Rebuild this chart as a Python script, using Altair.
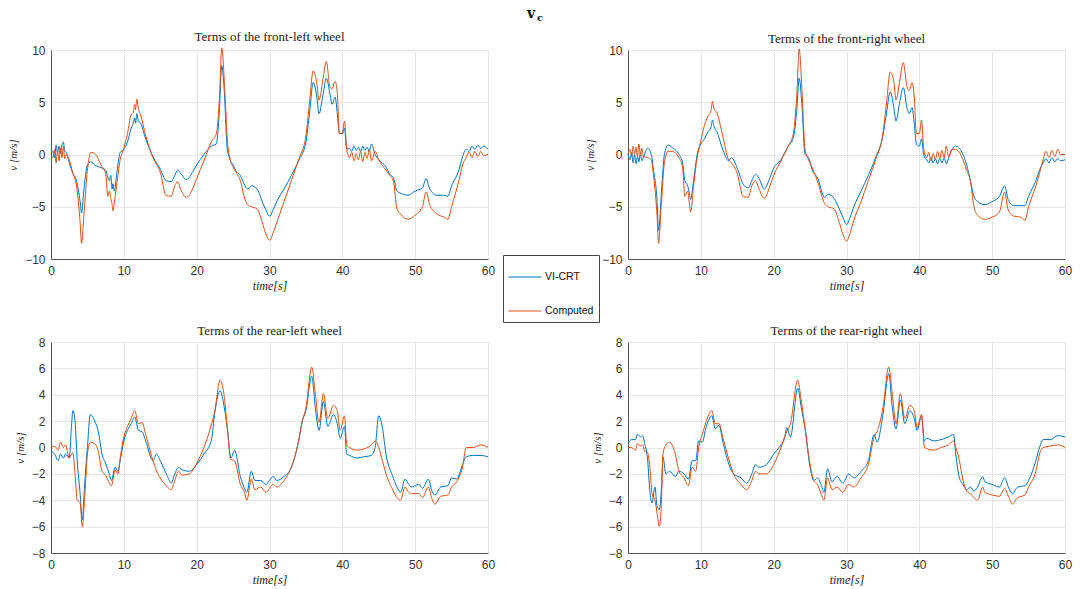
import altair as alt
import pandas as pd

SERIES = ["VI-CRT", "Computed"]
COLORS = ["#0072BD", "#D95319"]
TIME_TICKS = [0, 10, 20, 30, 40, 50, 60]
FRONT_TICKS = [-10, -5, 0, 5, 10]
REAR_TICKS = [-8, -6, -4, -2, 0, 2, 4, 6, 8]
TITLES = ["Terms of the front-left wheel", "Terms of the front-right wheel",
          "Terms of the rear-left wheel", "Terms of the rear-right wheel"]

# (time, VI-CRT, Computed)
FRONT_LEFT = [
    (0, 0, 0), (0.3, 0.3, -0.3), (0.5, -0.3, 0.5), (0.7, 0.9, -0.8), (0.9, 0.2, 0.4),
    (1.1, 0.8, -0.6), (1.3, 0.1, 0.6), (1.5, 0.9, -0.3), (1.7, 1.2, 0.8), (1.9, 0.3, -0.4),
    (2.1, 0.2, 0), (2.5, -0.8, -0.5), (3.0, -1.8, -1.8), (3.5, -2.5, -3.0), (4.0, -4.5, -6.5),
    (4.2, -5.6, -8.5), (4.5, -3.5, -6.0), (5.0, -1.0, -1.5), (5.5, -0.7, 0.2), (6.0, -1.0, 0.1),
    (7.0, -1.3, -1.2), (7.5, -1.5, -1.8), (7.8, -2.2, -4.0), (8.0, -2.5, -3.5), (8.2, -2.0, -4.2),
    (8.4, -3.3, -4.8), (8.5, -2.8, -5.4), (8.7, -3.5, -4.6), (9.0, -2.0, -3.0), (9.5, 0.2, -0.5),
    (10.0, 0.5, 0.6), (10.5, 1.2, 2.0), (11.0, 2.5, 3.8), (11.3, 3.0, 4.0), (11.5, 3.5, 4.8),
    (11.6, 3.0, 4.3), (11.8, 3.9, 5.3), (12.0, 3.2, 4.4), (12.3, 3.0, 3.8), (13.0, 1.5, 1.8),
    (14.0, -0.2, -0.3), (15.0, -1.4, -1.7), (15.8, -2.5, -3.9), (16.5, -2.6, -4.0), (17.0, -2.0, -3.0),
    (17.4, -1.5, -2.6), (17.8, -1.8, -3.3), (18.6, -2.4, -4.1), (19.5, -1.6, -3.2), (20.0, -1.0, -2.3),
    (21.0, 0.0, -0.6), (22.0, 0.8, 1.2), (22.7, 1.0, 2.0), (23.1, 4.0, 5.0), (23.45, 8.5, 10.2),
    (23.8, 6.0, 7.0), (24.2, 0.5, 1.5), (24.6, -0.5, -0.5), (25.0, -1.0, -1.2), (25.5, -1.7, -1.8),
    (26.0, -2.0, -2.5), (26.5, -2.8, -4.0), (27.0, -3.3, -4.8), (27.5, -3.0, -5.0), (28.3, -3.3, -5.2),
    (29.0, -4.5, -6.5), (29.5, -5.3, -7.6), (30.0, -5.9, -8.2), (30.5, -5.3, -7.5), (31.0, -4.5, -6.5),
    (32.0, -3.3, -4.5), (33.0, -2.0, -2.5), (34.0, -0.6, -0.5), (35.0, 1.2, 1.8), (35.5, 4.0, 5.0),
    (36.0, 6.9, 8.0), (36.5, 5.5, 6.8), (36.8, 3.9, 5.2), (37.3, 5.5, 7.0), (37.8, 7.3, 8.9),
    (38.3, 5.8, 6.5), (38.6, 4.8, 6.3), (39.0, 5.5, 7.0), (39.3, 4.0, 6.0), (39.6, 2.0, 2.0),
    (40.0, 2.0, 2.0), (40.3, 2.5, 3.2), (40.6, 0.5, 0.5), (41.0, 0.6, -0.3), (41.3, 0.3, 0.2),
    (41.6, 0.8, -0.6), (41.9, 0.4, 0.1), (42.2, 0.7, -0.5), (42.5, 0.3, 0.3), (42.8, 0.8, -0.7),
    (43.1, 0.4, 0.2), (43.4, 0.7, -0.4), (43.7, 0.3, 0.5), (44.0, 1.0, -0.6), (44.5, 0.0, 0.3),
    (45.0, -0.5, -0.5), (46.0, -1.2, -1.5), (46.5, -1.9, -2.0), (47.0, -2.2, -2.5), (47.5, -3.5, -5.2),
    (48.0, -3.7, -5.7), (49.0, -3.9, -6.2), (50.0, -3.5, -5.8), (51.0, -3.2, -5.0), (51.5, -2.3, -3.6),
    (52.0, -3.3, -4.8), (53.0, -3.9, -5.7), (54.0, -3.9, -6.0), (54.5, -4.0, -6.2), (55.0, -3.0, -5.0),
    (56.0, -1.5, -2.5), (56.5, -0.2, -1.0), (57.0, 0.5, -0.3), (57.4, 0.3, 0.2), (57.8, 0.8, -0.3),
    (58.2, 0.5, 0.3), (58.6, 0.9, -0.2), (59.0, 0.6, 0.3), (59.4, 0.8, -0.1), (60.0, 0.5, 0.0),
]

FRONT_RIGHT = [
    (0, 0, 0), (0.3, -0.5, 0.5), (0.5, 0.2, -0.2), (0.7, -0.8, 0.8), (0.9, 0.0, 0.0),
    (1.1, -0.9, 0.7), (1.3, -0.2, -0.2), (1.5, -0.7, 1.0), (1.7, 0.2, 0.0), (1.9, -0.6, 0.6),
    (2.1, -0.3, -0.2), (2.7, 0.6, -0.3), (3.2, 0.0, -0.5), (3.5, -1.5, -2.0), (4.0, -4.5, -6.0),
    (4.2, -7.3, -8.5), (4.6, -3.5, -4.5), (5.0, 0.0, -0.8), (5.5, 0.9, 0.3), (6.0, 0.7, 0.3),
    (7.0, 0.0, -0.3), (7.5, -0.8, -1.2), (7.8, -2.5, -4.0), (8.2, -3.0, -3.5), (8.4, -3.6, -4.6),
    (8.6, -4.3, -5.5), (9.0, -2.5, -3.0), (9.5, 0.0, -0.3), (10.0, 1.0, 1.3), (10.5, 1.5, 2.8),
    (11.0, 2.2, 3.7), (11.4, 2.6, 4.2), (11.6, 3.3, 5.1), (11.8, 2.7, 4.4), (12.2, 2.2, 4.0),
    (13.0, 0.5, 1.8), (13.8, -0.6, -0.5), (14.2, -0.3, -0.8), (15.0, -1.3, -1.8), (15.8, -2.8, -4.0),
    (16.5, -3.2, -4.1), (17.0, -2.5, -3.0), (17.5, -1.9, -2.5), (18.0, -2.3, -3.3), (18.7, -3.3, -4.2),
    (19.5, -2.2, -3.0), (20.0, -1.3, -2.0), (21.0, -0.5, -0.6), (22.0, 0.8, 0.8), (22.7, 1.6, 2.0),
    (23.2, 4.5, 6.0), (23.5, 7.3, 10.1), (23.9, 4.5, 6.0), (24.3, 0.0, 0.5), (24.8, -0.3, -0.5),
    (25.3, -1.5, -1.3), (26.0, -2.2, -2.5), (27.0, -4.1, -4.7), (27.5, -3.8, -5.0), (28.3, -4.2, -5.2),
    (29.0, -5.2, -6.5), (29.5, -6.0, -7.6), (30.0, -6.7, -8.3), (30.5, -6.0, -7.5), (31.0, -5.0, -6.3),
    (32.0, -3.5, -4.5), (33.0, -2.0, -2.5), (34.0, -0.3, -0.5), (35.0, 1.8, 2.0), (35.5, 4.0, 5.0),
    (36.0, 6.0, 7.9), (36.5, 4.5, 7.0), (36.8, 3.2, 5.2), (37.3, 5.0, 7.0), (37.8, 6.4, 8.8),
    (38.3, 4.5, 6.5), (38.6, 3.9, 6.1), (39.0, 4.5, 6.9), (39.3, 3.0, 5.5), (39.6, 1.0, 2.0),
    (40.0, 0.8, 2.0), (40.3, 1.5, 3.3), (40.6, 0.0, 0.5), (41.0, -0.5, -0.3), (41.3, -0.8, 0.2),
    (41.6, -0.3, -0.6), (41.9, -0.8, 0.1), (42.2, -0.4, -0.5), (42.5, -0.9, 0.3), (42.8, -0.4, -0.4),
    (43.1, -0.8, 0.4), (43.4, -0.3, -0.3), (43.7, -0.9, 0.8), (44.0, -0.4, -0.2), (44.5, 0.5, 0.5),
    (45.0, 0.8, 0.5), (46.0, 0.0, -0.5), (46.5, -1.0, -1.5), (47.0, -2.5, -2.5), (47.5, -4.0, -5.0),
    (48.0, -4.5, -5.8), (49.0, -4.8, -6.2), (50.0, -4.5, -6.0), (51.0, -4.0, -5.5), (51.7, -3.0, -3.6),
    (52.2, -4.3, -5.3), (53.0, -4.9, -5.9), (54.0, -4.9, -6.0), (54.5, -4.9, -6.3), (55.0, -4.0, -5.0),
    (56.0, -2.5, -3.0), (56.5, -1.5, -1.8), (57.0, -0.8, -0.5), (57.4, -0.4, 0.3), (57.8, -0.8, -0.3),
    (58.2, -0.3, 0.4), (58.6, -0.7, -0.2), (59.0, -0.4, 0.5), (59.4, -0.6, 0.0), (60.0, -0.5, 0.0),
]

REAR_LEFT = [
    (0, -0.3, 0.0), (0.5, -0.5, 0.1), (1.0, -1.0, -0.2), (1.3, -0.5, 0.4), (1.7, -0.8, 0.0),
    (2.0, -0.5, 0.2), (2.5, -0.8, -0.8), (2.8, 1.5, -0.5), (3.0, 2.8, -0.4), (3.3, 2.0, -2.0),
    (3.6, -1.0, -4.0), (4.0, -3.5, -4.2), (4.3, -5.5, -6.0), (4.6, -3.0, -4.0), (5.0, 0.0, -0.5),
    (5.4, 2.5, 0.4), (6.0, 2.0, 0.3), (6.5, 1.2, -0.3), (7.0, -0.5, -1.8), (7.5, -1.2, -2.1),
    (8.0, -2.0, -2.7), (8.3, -2.5, -2.9), (8.8, -1.5, -1.7), (9.2, -1.8, -2.0), (9.5, -1.0, -0.8),
    (10.0, 0.5, 0.8), (10.5, 1.3, 1.6), (11.0, 1.8, 2.2), (11.5, 2.3, 2.8), (12.0, 1.3, 1.8),
    (12.5, 1.2, 1.9), (13.0, 0.5, 1.0), (14.0, -1.0, -1.0), (14.5, -0.5, -1.8), (15.0, -1.0, -2.3),
    (16.0, -2.2, -3.0), (16.5, -2.7, -3.2), (17.0, -2.0, -2.5), (17.5, -1.5, -1.8), (18.0, -1.7, -2.1),
    (19.0, -1.8, -2.0), (20.0, -1.3, -1.2), (21.0, -0.5, 0.0), (22.0, 0.5, 1.7), (22.5, 2.7, 2.8),
    (23.2, 4.3, 5.1), (23.8, 3.0, 3.8), (24.2, 1.5, 1.5), (24.7, -0.8, -0.9), (25.2, -0.2, -1.0),
    (26.0, -2.2, -2.8), (26.5, -3.0, -3.3), (26.9, -3.4, -4.0), (27.5, -1.8, -2.4), (28.0, -2.5, -3.2),
    (28.8, -2.5, -3.0), (29.5, -2.8, -3.4), (30.5, -2.2, -2.8), (31.0, -2.5, -3.0), (32.0, -2.2, -2.5),
    (33.0, -1.5, -1.5), (34.0, 0.5, 0.5), (34.5, 2.0, 2.0), (35.0, 2.8, 3.0), (35.8, 5.4, 6.1),
    (36.3, 3.0, 4.0), (36.8, 1.3, 1.9), (37.4, 3.5, 4.1), (38.0, 1.6, 2.2), (38.8, 2.5, 3.2),
    (39.3, 1.8, 2.8), (39.7, 0.7, 1.3), (40.3, 1.6, 2.4), (40.6, -0.5, 0.2), (41.0, -0.6, 0.0),
    (42.0, -0.8, -0.2), (43.0, -0.7, -0.1), (44.0, -0.6, 0.2), (44.5, 0.0, 0.5), (45.0, 2.4, 0.0),
    (45.5, 1.5, -1.0), (46.0, -0.5, -2.0), (47.0, -2.3, -3.3), (47.5, -3.0, -3.8), (48.0, -3.4, -4.0),
    (48.6, -2.4, -3.0), (49.0, -2.7, -3.3), (49.5, -3.0, -3.5), (50.5, -2.8, -3.5), (51.0, -3.1, -3.8),
    (51.8, -2.4, -3.0), (52.3, -3.3, -3.9), (52.7, -3.6, -4.3), (53.5, -3.0, -3.7), (54.5, -2.9, -3.6),
    (55.0, -2.3, -3.0), (55.7, -2.4, -2.6), (56.5, -1.3, -1.5), (57.0, -0.7, 0.0), (58.0, -0.6, 0.0),
    (59.0, -0.6, 0.2), (60.0, -0.7, 0.0),
]

REAR_RIGHT = [
    (0, 0.3, 0.0), (0.5, 0.6, 0.0), (1.0, 0.6, -0.2), (1.3, 1.0, 0.3), (1.7, 0.8, 0.1),
    (2.0, 0.9, 0.2), (2.3, 0.3, -0.3), (2.7, -1.0, -0.4), (3.0, -3.3, -1.5), (3.3, -4.2, -3.5),
    (3.7, -3.0, -4.0), (4.0, -4.5, -5.0), (4.3, -4.7, -6.0), (4.6, -3.0, -4.0), (4.8, -0.7, -0.5),
    (5.2, -2.0, 0.2), (5.7, -1.8, 0.4), (6.5, -2.2, -0.5), (7.0, -1.8, -1.8), (7.7, -2.0, -2.3),
    (8.3, -2.4, -2.9), (8.8, -1.0, -1.5), (9.3, -1.0, -1.8), (9.7, 0.5, 0.0), (10.2, 0.4, 1.0),
    (10.7, 1.5, 1.9), (11.5, 2.4, 2.8), (12.0, 1.4, 1.8), (12.5, 1.7, 1.8), (13.0, 0.5, 0.8),
    (14.0, -1.5, -1.2), (14.5, -2.0, -2.0), (15.5, -2.3, -2.8), (16.3, -2.7, -3.2), (17.0, -2.0, -2.5),
    (17.5, -1.3, -1.8), (18.0, -1.5, -2.0), (19.0, -1.3, -2.0), (20.0, -0.5, -1.3), (21.0, 0.2, 0.0),
    (21.5, 0.7, 0.8), (21.8, 1.5, 1.2), (22.3, 0.8, 1.8), (23.3, 4.5, 5.1), (23.8, 3.0, 3.5),
    (24.3, 1.5, 1.5), (25.0, -1.5, -1.3), (25.5, -2.5, -2.5), (26.0, -2.3, -2.8), (26.5, -2.8, -3.5),
    (26.9, -3.4, -4.0), (27.4, -1.6, -2.3), (28.0, -2.6, -3.2), (28.7, -2.2, -3.0), (29.5, -2.7, -3.4),
    (30.3, -2.0, -2.8), (31.0, -2.3, -3.0), (32.0, -1.8, -2.3), (33.0, -1.0, -1.3), (33.8, 1.0, 0.8),
    (34.2, 0.4, 1.2), (35.0, 2.5, 3.0), (35.8, 5.6, 6.1), (36.3, 3.0, 4.0), (36.8, 1.4, 1.8),
    (37.4, 3.6, 4.1), (38.0, 1.8, 2.2), (38.7, 2.8, 3.2), (39.3, 2.2, 2.8), (39.7, 1.3, 1.5),
    (40.3, 2.4, 2.5), (40.7, 0.5, 0.0), (41.0, 0.7, -0.1), (42.0, 0.5, -0.2), (43.0, 0.6, 0.0),
    (44.0, 0.8, 0.2), (44.7, 1.0, 0.5), (45.0, -0.5, 0.0), (45.5, -2.3, -1.0), (46.0, -2.8, -2.5),
    (46.5, -3.2, -3.3), (47.0, -3.0, -3.5), (47.5, -3.3, -3.8), (48.0, -3.0, -4.0), (48.7, -2.2, -3.0),
    (49.0, -2.6, -3.4), (50.0, -2.8, -3.6), (51.0, -3.0, -3.7), (51.7, -2.3, -3.1), (52.3, -3.1, -3.8),
    (52.8, -3.5, -4.3), (53.5, -3.0, -3.8), (54.5, -2.9, -3.6), (55.0, -2.5, -3.0), (56.0, -1.0, -1.8),
    (56.5, 0.0, -0.5), (57.0, 0.6, 0.0), (58.0, 0.6, 0.1), (59.0, 0.9, 0.2), (60.0, 0.8, 0.0),
]

W = 437


def long_df(rows):
    recs = []
    for t, b, o in rows:
        recs.append({"t": t, "v": b, "s": SERIES[0]})
        recs.append({"t": t, "v": o, "s": SERIES[1]})
    return pd.DataFrame(recs)


def panel(rows, title, ydom, yticks, h, first=False):
    df = long_df(rows)
    x = alt.X("t:Q", scale=alt.Scale(domain=[0, 60], nice=False),
              axis=alt.Axis(values=TIME_TICKS, title="time[s]", labelFlush=False))
    y = alt.Y("v:Q", scale=alt.Scale(domain=ydom, nice=False),
              axis=alt.Axis(values=yticks, title="v [m/s]"))
    if first:
        leg = alt.Legend(orient="none", legendX=452, legendY=205, title=None,
                         symbolType="stroke", symbolSize=1089, symbolStrokeWidth=1,
                         labelFont="Liberation Sans", labelFontSize=10.5, labelColor="#111",
                         padding=5, rowPadding=11, labelOffset=3,
                         strokeColor="#444", fillColor="white")
    else:
        leg = None
    color = alt.Color("s:N", scale=alt.Scale(domain=SERIES, range=COLORS), legend=leg)
    base = alt.Chart(df)
    layers = []
    for s in SERIES:
        layers.append(
            base.transform_filter(alt.datum.s == s)
            .mark_line(strokeWidth=1, interpolate="monotone")
            .encode(x=x, y=y, color=color)
        )
    if first:
        one = pd.DataFrame({"k": [0]})
        layers.append(alt.Chart(one).mark_text(text=title, font="Liberation Serif", fontSize=13,
                                               color="#222", baseline="middle")
                      .encode(x=alt.value(W / 2), y=alt.value(-13)))
        layers.append(alt.Chart(one).mark_text(text="v", font="DejaVu Serif", fontWeight="bold",
                                               fontSize=14, color="#111")
                      .encode(x=alt.value(480), y=alt.value(-36)))
        layers.append(alt.Chart(one).mark_text(text="c", font="DejaVu Serif", fontWeight="bold",
                                               fontSize=10, color="#111")
                      .encode(x=alt.value(489), y=alt.value(-32)))
        return alt.layer(*layers).properties(width=W, height=h)
    return alt.layer(*layers).properties(width=W, height=h, title=title)


p1 = panel(FRONT_LEFT, TITLES[0], [-10, 10], FRONT_TICKS, 209, first=True)
p2 = panel(FRONT_RIGHT, TITLES[1], [-10, 10], FRONT_TICKS, 209)
p3 = panel(REAR_LEFT, TITLES[2], [-8, 8], REAR_TICKS, 211)
p4 = panel(REAR_RIGHT, TITLES[3], [-8, 8], REAR_TICKS, 211)

chart = alt.concat(
    p1, p2, p3, p4, columns=2,
    spacing={"row": 83, "column": 140}, bounds="flush",
).properties(
    padding={"left": 7, "top": 6, "right": 5, "bottom": 5},
    background="white",
).configure_view(
    stroke="#e2e2e2"
).configure_axis(
    grid=True, gridColor="#e6e6e6", domainColor="#555", domainWidth=1,
    ticks=False, labelFont="Liberation Sans", labelFontSize=12, labelColor="#333",
    labelPadding=6, titleFont="Liberation Serif", titleFontStyle="italic",
    titleFontWeight="normal", titleFontSize=12, titleColor="#222", titlePadding=4,
).configure_axisY(
    titleFontSize=11, titlePadding=6
).configure_title(
    font="Liberation Serif", fontSize=13, fontWeight="normal", color="#222", offset=-2
)

chart.save("out.html", embed_options={"renderer": "svg", "actions": False})
